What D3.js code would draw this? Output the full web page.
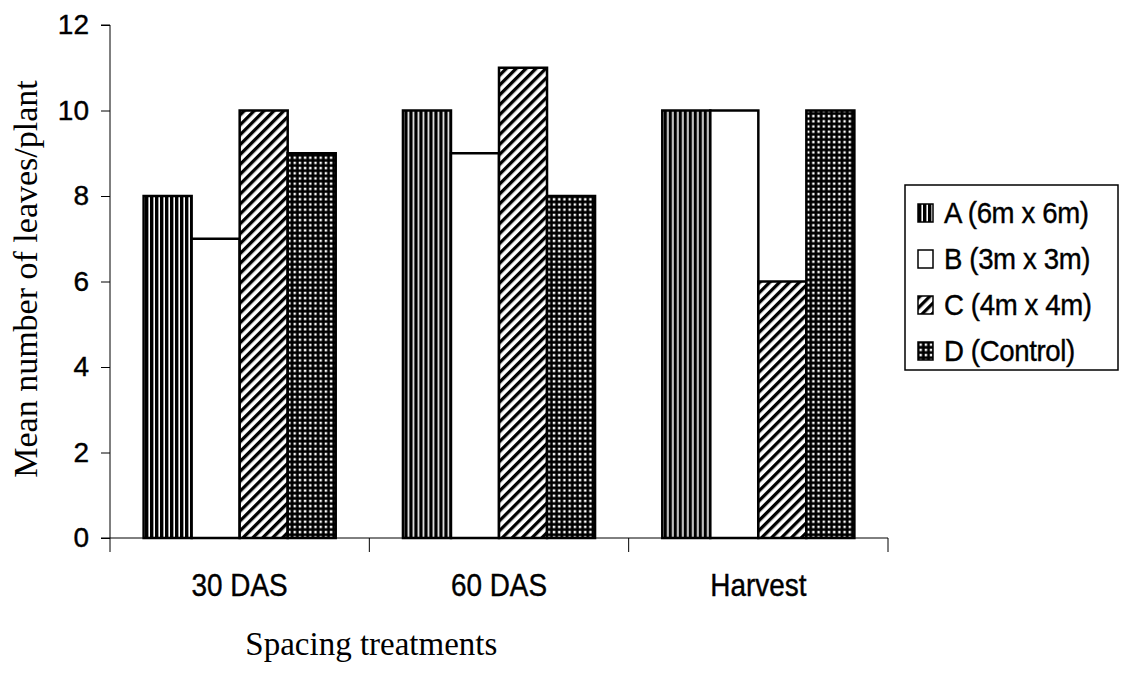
<!DOCTYPE html>
<html>
<head>
<meta charset="utf-8">
<script src="https://cdn.jsdelivr.net/npm/d3@7"></script>
<style>
  body { margin: 0; background: #fff; }
  svg { display: block; }
</style>
</head>
<body>
<svg id="chart" width="1122" height="677"></svg>
<script>
// data
const stages = ['30 DAS', '60 DAS', 'Harvest'];
const treatments = ['A (6m x 6m)', 'B (3m x 3m)', 'C (4m x 4m)', 'D (Control)'];
const valuesA = [8, 10, 10];
const valuesB = [7, 9, 10];
const valuesC = [10, 11, 6];
const valuesD = [9, 8, 10];
const yTicks = [0, 2, 4, 6, 8, 10, 12];

const seriesValues = [valuesA, valuesB, valuesC, valuesD];
const fills = ['url(#pat-vert)', '#fff', 'url(#pat-diag)', 'url(#pat-grid)'];

const margin = { top: 25, left: 110, right: 234, bottom: 139 };
const svg = d3.select('#chart');
const width = 1122, height = 677;
const plotW = width - margin.left - margin.right;
const plotH = height - margin.top - margin.bottom;
const sans = '"Liberation Sans", Arial, sans-serif';
const serif = '"Liberation Serif", "Times New Roman", serif';

/**
 * hatch patterns, black and white like the print
 */
const defs = svg.append('defs');
let p = defs.append('pattern').attr('id', 'pat-vert')
    .attr('patternUnits', 'userSpaceOnUse').attr('width', 5).attr('height', 10);
p.append('rect').attr('width', 5).attr('height', 10).attr('fill', '#000');
p.append('rect').attr('x', 3.4).attr('width', 1.6).attr('height', 10).attr('fill', '#fff');

p = defs.append('pattern').attr('id', 'pat-diag')
    .attr('patternUnits', 'userSpaceOnUse').attr('width', 7).attr('height', 7)
    .attr('patternTransform', 'rotate(45)');
p.append('rect').attr('width', 7).attr('height', 7).attr('fill', '#fff');
p.append('rect').attr('width', 3.3).attr('height', 7).attr('fill', '#000');

p = defs.append('pattern').attr('id', 'pat-grid')
    .attr('patternUnits', 'userSpaceOnUse').attr('width', 5.2).attr('height', 5.2);
p.append('rect').attr('width', 5.2).attr('height', 5.2).attr('fill', '#000');
p.append('rect').attr('x', 1.5).attr('y', 1.5).attr('width', 2.4).attr('height', 2.4).attr('fill', '#fff');

const x0 = d3.scaleBand().domain(stages).range([0, plotW]).paddingInner(0).paddingOuter(0);
const x1 = d3.scaleBand().domain(d3.range(treatments.length))
    .range([0, x0.bandwidth()]).paddingInner(0).paddingOuter(0.7);
const y = d3.scaleLinear().domain([0, 12]).range([plotH, 0]);

const g = svg.append('g').attr('transform', 'translate(' + margin.left + ',' + margin.top + ')');

// bars
const groups = g.selectAll('g.stage')
    .data(stages)
    .enter()
    .append('g')
    .attr('class', 'stage')
    .attr('transform', function(s){ return 'translate(' + x0(s) + ',0)'; });

groups.selectAll('rect')
    .data(function(s, i){
        return seriesValues.map(function(vals, k){ return { k: k, v: vals[i] }; });
    })
    .enter()
    .append('rect')
    .attr('x', function(d){ return x1(d.k); })
    .attr('width', x1.bandwidth())
    .attr('y', function(d){ return y(d.v); })
    .attr('height', function(d){ return plotH - y(d.v); })
    .attr('fill', function(d){ return fills[d.k]; })
    .attr('stroke', '#000')
    .attr('stroke-width', 2.5);

// axes
const yAxis = d3.axisLeft(y).tickValues(yTicks).tickSize(9).tickPadding(12);
const gy = g.append('g').call(yAxis);
gy.select('.domain').attr('d', 'M-9,0H0V' + plotH);
gy.selectAll('text')
    .style('font-family', sans)
    .style('font-size', '28px')
    .attr('fill', '#000')
    .attr('stroke', '#000')
    .attr('stroke-width', 0.4);

const xAxis = d3.axisBottom(x0).tickValues([]).tickSizeOuter(0);
const gx = g.append('g').attr('transform', 'translate(0,' + plotH + ')').call(xAxis);
gx.select('.domain').attr('d', 'M-9,0H' + plotW);
// ticks on the group borders
gx.selectAll('line.border')
    .data(d3.range(stages.length + 1))
    .enter()
    .append('line')
    .attr('class', 'border')
    .attr('x1', function(i){ return i * x0.step(); })
    .attr('x2', function(i){ return i * x0.step(); })
    .attr('y1', 0).attr('y2', 14)
    .attr('stroke', '#000');
gx.selectAll('text.cat')
    .data(stages)
    .enter()
    .append('text')
    .attr('class', 'cat')
    .attr('transform', function(s){
        return 'translate(' + (x0(s) + x0.bandwidth() / 2) + ',58) scale(0.9,1)';
    })
    .attr('text-anchor', 'middle')
    .attr('fill', '#000')
    .attr('stroke', '#000')
    .attr('stroke-width', 0.4)
    .style('font-family', sans)
    .style('font-size', '31px')
    .text(function(s){ return s; });

// titles
svg.append('text')
    .attr('x', margin.left + x0.step() + 2)
    .attr('y', 655)
    .attr('text-anchor', 'middle')
    .style('font-family', serif)
    .style('font-size', '33px')
    .text('Spacing treatments');

svg.append('text')
    .attr('transform', 'translate(37,279) rotate(-90)')
    .attr('text-anchor', 'middle')
    .style('font-family', serif)
    .style('font-size', '34px')
    .text('Mean number of leaves/plant');

// legend
const legend = svg.append('g').attr('transform', 'translate(905,185)');
legend.append('rect')
    .attr('width', 213).attr('height', 185)
    .attr('fill', '#fff').attr('stroke', '#000').attr('stroke-width', 1.5);
const items = legend.selectAll('g.item')
    .data(treatments)
    .enter()
    .append('g')
    .attr('class', 'item')
    .attr('transform', function(t, i){ return 'translate(13,' + (19 + i * 46) + ')'; });
items.append('rect')
    .attr('width', 15).attr('height', 18)
    .attr('fill', function(t, i){ return fills[i]; })
    .attr('stroke', '#000').attr('stroke-width', 1.5);
items.append('text')
    .attr('transform', 'translate(26,19) scale(0.92,1)')
    .attr('stroke', '#000')
    .attr('stroke-width', 0.4)
    .style('font-family', sans)
    .style('font-size', '30px')
    .style('letter-spacing', '-0.4px')
    .text(function(t){ return t; });
</script>
</body>
</html>
